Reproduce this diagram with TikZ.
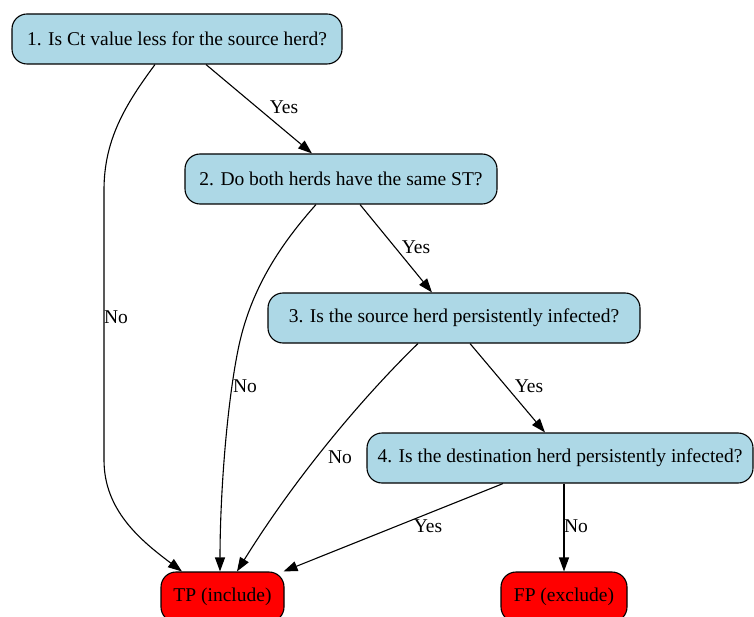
\documentclass[tikz,border=0pt]{standalone}
\usepackage{fontspec}
\setmainfont{Liberation Serif}
\usetikzlibrary{arrows.meta,calc}
\definecolor{qblue}{HTML}{ADD8E6}
\definecolor{rred}{HTML}{FF0000}
\tikzset{
  qbox/.style={draw, line width=1.1pt, fill=qblue, rounded corners=15pt, minimum height=50pt, inner sep=0pt, font=\fontsize{19.5}{23}\selectfont},
  rbox/.style={qbox, fill=rred},
  edge/.style={line width=1.1pt, -{Triangle[length=14pt,width=10pt]}},
  lbl/.style={inner sep=0pt, font=\fontsize{19.5}{23}\selectfont}
}
\begin{document}
\begin{tikzpicture}[x=1pt,y=-1pt]
\useasboundingbox (0,0) rectangle (754,617);
\node[qbox, minimum width=330pt] (n1) at (177,39) {1. Is Ct value less for the source herd?};
\node[qbox, minimum width=312pt] (n2) at (341,179) {2. Do both herds have the same ST?};
\node[qbox, minimum width=372pt] (n3) at (454,318) {3. Is the source herd persistently infected?};
\node[qbox, minimum width=386pt] (n4) at (560,458) {4. Is the destination herd persistently infected?};
\node[rbox, minimum width=123pt] (tp) at (222.5,597) {TP (include)};
\node[rbox, minimum width=126pt] (fp) at (564,597) {FP (exclude)};

\draw[edge] ($(n1.south)+(29,0)$) -- ($(n2.north)+(-29,0)$);
\draw[edge] ($(n1.south)+(-22,0)$) .. controls (125,105) and (104,140) .. (104,190) -- (104,460) .. controls (104,510) and (140,540) .. ($(tp.north)+(-40.5,0)$);
\draw[edge] ($(n2.south)+(19,0)$) -- ($(n3.north)+(-22,0)$);
\draw[edge] ($(n2.south)+(-25,0)$) .. controls (280,245) and (250,290) .. (238,350) .. controls (226,410) and (220,500) .. ($(tp.north)+(-2.5,0)$);
\draw[edge] ($(n3.south)+(16,0)$) -- ($(n4.north)+(-15,0)$);
\draw[edge] ($(n3.south)+(-36,0)$) .. controls (370,390) and (300,470) .. ($(tp.north)+(14.5,0)$);
\draw[edge] ($(n4.south)+(-57,0)$) -- ($(tp.north)+(61,0)$);
\draw[edge] ($(n4.south)+(4,0)$) -- (fp.north);

\node[lbl] (l1) at (284,107) {Yes};
\node[lbl] (l2) at (116,317) {No};
\node[lbl] (l3) at (416,247) {Yes};
\node[lbl] (l4) at (245,386) {No};
\node[lbl] (l5) at (529,386) {Yes};
\node[lbl] (l6) at (340,457) {No};
\node[lbl] (l7) at (428,526) {Yes};
\node[lbl] (l8) at (576,526) {No};
\end{tikzpicture}
\end{document}
